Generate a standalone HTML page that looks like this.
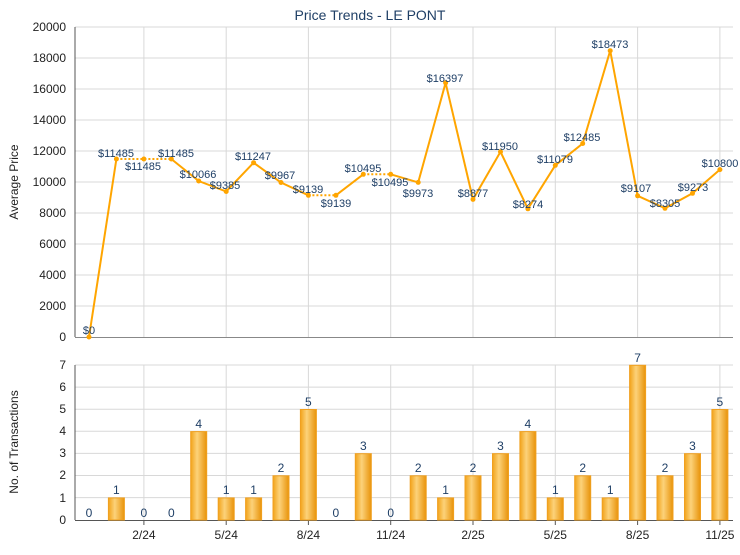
<!DOCTYPE html>
<html><head><meta charset="utf-8"><style>
body{margin:0;background:#fff;}
svg text{font-family:"Liberation Sans",Arial,sans-serif;}
</style></head><body>
<svg width="740" height="550" viewBox="0 0 740 550" xmlns="http://www.w3.org/2000/svg">
<defs>
<linearGradient id="bg" x1="0" x2="1" y1="0" y2="0">
<stop offset="0" stop-color="#f2a31a"/><stop offset="0.4" stop-color="#fcd27a"/><stop offset="1" stop-color="#e8930a"/>
</linearGradient>
</defs>
<text x="370" y="20" font-size="14" fill="#1f3f66" text-anchor="middle">Price Trends - LE PONT</text>
<!-- top grid -->
<g stroke="#d8d8d8" stroke-width="1">
<line x1="75" x2="733" y1="27" y2="27"/><line x1="75" x2="733" y1="58" y2="58"/><line x1="75" x2="733" y1="89" y2="89"/><line x1="75" x2="733" y1="120" y2="120"/><line x1="75" x2="733" y1="151" y2="151"/><line x1="75" x2="733" y1="182" y2="182"/><line x1="75" x2="733" y1="213" y2="213"/><line x1="75" x2="733" y1="244" y2="244"/><line x1="75" x2="733" y1="275" y2="275"/><line x1="75" x2="733" y1="306" y2="306"/>
<line x1="143.9" x2="143.9" y1="27" y2="337"/><line x1="226.2" x2="226.2" y1="27" y2="337"/><line x1="308.4" x2="308.4" y1="27" y2="337"/><line x1="390.7" x2="390.7" y1="27" y2="337"/><line x1="473" x2="473" y1="27" y2="337"/><line x1="555.3" x2="555.3" y1="27" y2="337"/><line x1="637.6" x2="637.6" y1="27" y2="337"/><line x1="719.9" x2="719.9" y1="27" y2="337"/>
</g>
<line x1="75" x2="75" y1="27" y2="337" stroke="#555"/>
<line x1="75" x2="733" y1="337.5" y2="337.5" stroke="#888"/>
<g font-size="12" fill="#222" text-anchor="end">
<text x="66" y="31">20000</text><text x="66" y="62">18000</text><text x="66" y="93">16000</text><text x="66" y="124">14000</text><text x="66" y="155">12000</text><text x="66" y="186">10000</text><text x="66" y="217">8000</text><text x="66" y="248">6000</text><text x="66" y="279">4000</text><text x="66" y="310">2000</text><text x="66" y="341">0</text>
</g>
<text transform="translate(18,182) rotate(-90)" font-size="12" fill="#222" text-anchor="middle">Average Price</text>
<!-- line -->
<g fill="none" stroke="#ffa500" stroke-width="2">
<polyline points="89,337 116.4,159"/>
<polyline points="116.4,159 171.3,159" stroke-dasharray="2,2"/>
<polyline points="171.3,159 198.7,181 226.2,191.5 253.6,162.7 281,182.5 308.4,195.3"/>
<polyline points="308.4,195.3 335.9,195.3" stroke-dasharray="2,2"/>
<polyline points="335.9,195.3 363.3,174.3"/>
<polyline points="363.3,174.3 390.7,174.3" stroke-dasharray="2,2"/>
<polyline points="390.7,174.3 418.2,182.4 445.6,82.8 473,199.4 500.5,151.8 527.9,208.8 555.3,165.3 582.7,143.5 610.2,50.7 637.6,195.8 665,208.3 692.5,193.3 719.9,169.6"/>
</g>
<g fill="#ffa500">
<circle cx="89" cy="337" r="2.5"/><circle cx="116.4" cy="159" r="2.5"/><circle cx="143.9" cy="159" r="2.5"/><circle cx="171.3" cy="159" r="2.5"/><circle cx="198.7" cy="181" r="2.5"/><circle cx="226.2" cy="191.5" r="2.5"/><circle cx="253.6" cy="162.7" r="2.5"/><circle cx="281" cy="182.5" r="2.5"/><circle cx="308.4" cy="195.3" r="2.5"/><circle cx="335.9" cy="195.3" r="2.5"/><circle cx="363.3" cy="174.3" r="2.5"/><circle cx="390.7" cy="174.3" r="2.5"/><circle cx="418.2" cy="182.4" r="2.5"/><circle cx="445.6" cy="82.8" r="2.5"/><circle cx="473" cy="199.4" r="2.5"/><circle cx="500.5" cy="151.8" r="2.5"/><circle cx="527.9" cy="208.8" r="2.5"/><circle cx="555.3" cy="165.3" r="2.5"/><circle cx="582.7" cy="143.5" r="2.5"/><circle cx="610.2" cy="50.7" r="2.5"/><circle cx="637.6" cy="195.8" r="2.5"/><circle cx="665" cy="208.3" r="2.5"/><circle cx="692.5" cy="193.3" r="2.5"/><circle cx="719.9" cy="169.6" r="2.5"/>
</g>
<g font-size="11" fill="#1f3f66" text-anchor="middle">
<text x="89" y="334">$0</text><text x="116" y="157">$11485</text><text x="143" y="170">$11485</text><text x="176" y="157">$11485</text><text x="198" y="178">$10066</text><text x="225" y="189">$9385</text><text x="253" y="160">$11247</text><text x="280" y="179">$9967</text><text x="308" y="193">$9139</text><text x="336" y="207">$9139</text><text x="363" y="172">$10495</text><text x="390" y="186">$10495</text><text x="418" y="197">$9973</text><text x="445" y="82">$16397</text><text x="473" y="197">$8877</text><text x="500" y="150">$11950</text><text x="528" y="208">$8274</text><text x="555" y="163">$11079</text><text x="582" y="141">$12485</text><text x="610" y="48">$18473</text><text x="636" y="192">$9107</text><text x="665" y="207">$8305</text><text x="693" y="191">$9273</text><text x="720" y="167">$10800</text>
</g>
<!-- bottom grid -->
<g stroke="#d8d8d8" stroke-width="1">
<line x1="75" x2="733" y1="365" y2="365"/><line x1="75" x2="733" y1="387.1" y2="387.1"/><line x1="75" x2="733" y1="409.2" y2="409.2"/><line x1="75" x2="733" y1="431.3" y2="431.3"/><line x1="75" x2="733" y1="453.4" y2="453.4"/><line x1="75" x2="733" y1="475.5" y2="475.5"/><line x1="75" x2="733" y1="497.6" y2="497.6"/>
<line x1="143.9" x2="143.9" y1="365" y2="520"/><line x1="226.2" x2="226.2" y1="365" y2="520"/><line x1="308.4" x2="308.4" y1="365" y2="520"/><line x1="390.7" x2="390.7" y1="365" y2="520"/><line x1="473" x2="473" y1="365" y2="520"/><line x1="555.3" x2="555.3" y1="365" y2="520"/><line x1="637.6" x2="637.6" y1="365" y2="520"/><line x1="719.9" x2="719.9" y1="365" y2="520"/>
</g>
<line x1="75" x2="75" y1="365" y2="520" stroke="#555"/>
<line x1="75" x2="733" y1="520.5" y2="520.5" stroke="#555"/>
<g stroke="#555"><line x1="143.9" x2="143.9" y1="520" y2="525"/><line x1="226.2" x2="226.2" y1="520" y2="525"/><line x1="308.4" x2="308.4" y1="520" y2="525"/><line x1="390.7" x2="390.7" y1="520" y2="525"/><line x1="473" x2="473" y1="520" y2="525"/><line x1="555.3" x2="555.3" y1="520" y2="525"/><line x1="637.6" x2="637.6" y1="520" y2="525"/><line x1="719.9" x2="719.9" y1="520" y2="525"/></g>
<g font-size="12" fill="#222" text-anchor="end">
<text x="66" y="369">7</text><text x="66" y="391">6</text><text x="66" y="413">5</text><text x="66" y="435">4</text><text x="66" y="457">3</text><text x="66" y="479">2</text><text x="66" y="502">1</text><text x="66" y="524">0</text>
</g>
<text transform="translate(18,442) rotate(-90)" font-size="12" fill="#222" text-anchor="middle">No. of Transactions</text>
<g font-size="12" fill="#222" text-anchor="middle">
<text x="143.9" y="539">2/24</text><text x="226.2" y="539">5/24</text><text x="308.4" y="539">8/24</text><text x="390.7" y="539">11/24</text><text x="473" y="539">2/25</text><text x="555.3" y="539">5/25</text><text x="637.6" y="539">8/25</text><text x="719.9" y="539">11/25</text>
</g>
<g fill="url(#bg)" stroke="#f0a020" stroke-width="1">
<rect x="108.4" y="497.9" width="16" height="22.1"/>
<rect x="190.7" y="431.6" width="16" height="88.4"/>
<rect x="218.2" y="497.9" width="16" height="22.1"/>
<rect x="245.6" y="497.9" width="16" height="22.1"/>
<rect x="273" y="475.8" width="16" height="44.2"/>
<rect x="300.4" y="409.5" width="16" height="110.5"/>
<rect x="355.3" y="453.7" width="16" height="66.3"/>
<rect x="410.2" y="475.8" width="16" height="44.2"/>
<rect x="437.6" y="497.9" width="16" height="22.1"/>
<rect x="465" y="475.8" width="16" height="44.2"/>
<rect x="492.5" y="453.7" width="16" height="66.3"/>
<rect x="519.9" y="431.6" width="16" height="88.4"/>
<rect x="547.3" y="497.9" width="16" height="22.1"/>
<rect x="574.7" y="475.8" width="16" height="44.2"/>
<rect x="602.2" y="497.9" width="16" height="22.1"/>
<rect x="629.6" y="365.3" width="16" height="154.7"/>
<rect x="657" y="475.8" width="16" height="44.2"/>
<rect x="684.5" y="453.7" width="16" height="66.3"/>
<rect x="711.9" y="409.5" width="16" height="110.5"/>
</g>
<g font-size="12" fill="#1f3f66" text-anchor="middle">
<text x="89" y="517">0</text><text x="116.4" y="494">1</text><text x="143.9" y="517">0</text><text x="171.3" y="517">0</text><text x="198.7" y="428">4</text><text x="226.2" y="494">1</text><text x="253.6" y="494">1</text><text x="281" y="472">2</text><text x="308.4" y="406">5</text><text x="335.9" y="517">0</text><text x="363.3" y="450">3</text><text x="390.7" y="517">0</text><text x="418.2" y="472">2</text><text x="445.6" y="494">1</text><text x="473" y="472">2</text><text x="500.5" y="450">3</text><text x="527.9" y="428">4</text><text x="555.3" y="494">1</text><text x="582.7" y="472">2</text><text x="610.2" y="494">1</text><text x="637.6" y="362">7</text><text x="665" y="472">2</text><text x="692.5" y="450">3</text><text x="719.9" y="406">5</text>
</g>
</svg>
</body></html>
